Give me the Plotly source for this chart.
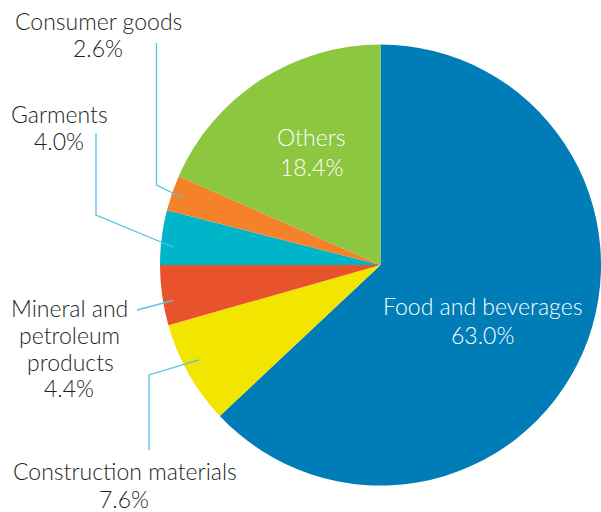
import plotly.graph_objects as go

# Share of imports by product group (%)
categories = ["Food and beverages", "Construction materials",
              "Mineral and petroleum products", "Garments",
              "Consumer goods", "Others"]
shares = [63.0, 7.6, 4.4, 4.0, 2.6, 18.4]
colors = ["#007CB6", "#F2E500", "#E8532C", "#00B4C9", "#F5822A", "#8DC63F"]

W, H = 601, 512
FONT = "Lato"
DARK = "#231F20"
LEADER = "#55C2EA"

fig = go.Figure(go.Pie(
    labels=categories,
    values=shares,
    sort=False,
    direction="clockwise",
    rotation=0,
    marker=dict(colors=colors, line=dict(width=0)),
    textinfo="none",
    hoverinfo="label+percent",
    showlegend=False,
    domain=dict(x=[160 / W, 1.0], y=[(H - 485.5) / H, (H - 44.5) / H]),
))


def px(x, y):
    return x / W, 1 - y / H


# slice labels, one entry per text line: (text, centre x, centre y, colour)
label_lines = [
    ("Consumer goods", 98.5, 20.6, DARK),
    (f"{shares[4]:.1f}%", 98, 47.8, DARK),
    ("Garments", 59, 113.5, DARK),
    (f"{shares[3]:.1f}%", 59, 140.5, DARK),
    ("Others", 311, 136.5, "white"),
    (f"{shares[5]:.1f}%", 311, 166.5, "white"),
    ("Food and beverages", 482.3, 306, "white"),
    (f"{shares[0]:.1f}%", 482, 335, "white"),
    ("Mineral and", 69.5, 308.3, DARK),
    ("petroleum", 69, 335, DARK),
    ("products", 70, 361.5, DARK),
    (f"{shares[2]:.1f}%", 68.5, 387.5, DARK),
    ("Construction materials", 125, 471, DARK),
    (f"{shares[1]:.1f}%", 124, 498.5, DARK),
]

annotations = []
for text, cx, cy, col in label_lines:
    ax, ay = px(cx, cy)
    annotations.append(dict(
        text=text, x=ax, y=ay, xref="paper", yref="paper",
        xanchor="center", yanchor="middle", showarrow=False, align="center",
        borderpad=0,
        font=dict(family=FONT, size=23, color=col, weight=300),
    ))

# leader lines from labels into the small slices
leaders = [
    [(156.5, 43), (156.5, 185), (183, 198)],
    [(96, 133), (96, 215), (173, 247)],
    [(137, 310), (173, 300.5)],
    [(149, 450), (149, 375), (199, 360)],
]
shapes = []
for pts in leaders:
    path = "M " + " L ".join(f"{px(x, y)[0]:.5f},{px(x, y)[1]:.5f}" for x, y in pts)
    shapes.append(dict(type="path", path=path, xref="paper", yref="paper",
                       line=dict(color=LEADER, width=1.3)))

fig.update_layout(
    width=W, height=H,
    margin=dict(l=0, r=0, t=0, b=0),
    paper_bgcolor="white", plot_bgcolor="white",
    annotations=annotations, shapes=shapes,
)

fig.write_html("out.html")
